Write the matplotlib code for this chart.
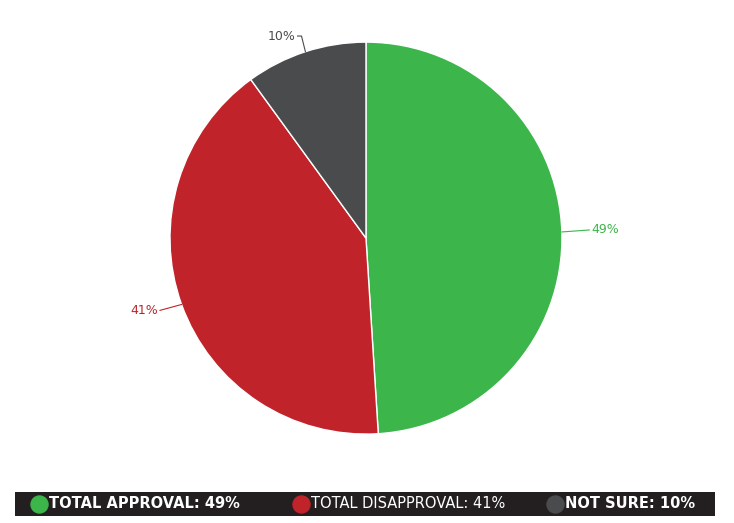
import matplotlib
matplotlib.use("Agg")
import matplotlib.pyplot as plt
import numpy as np

labels = ["TOTAL APPROVAL", "TOTAL DISAPPROVAL", "NOT SURE"]
values = [49, 41, 10]
colors = ["#3cb54a", "#c1232a", "#4a4b4d"]

fig = plt.figure(figsize=(7.34, 5.23), dpi=100)
ax = fig.add_axes([0.2316, 0.170, 0.534, 0.7495])
wedges, _ = ax.pie(values, colors=colors, startangle=90, counterclock=False,
                   radius=1.0, wedgeprops=dict(linewidth=1, edgecolor="white"))
ax.set_xlim(-1, 1); ax.set_ylim(-1, 1); ax.set_aspect("equal"); ax.axis("off")

offsets = [(0.15, 0.01), (-0.12, -0.03), (-0.02, 0.08)]
for w, v, c, (dx, dy) in zip(wedges, values, colors, offsets):
    ang = np.deg2rad((w.theta1 + w.theta2) / 2)
    x, y = np.cos(ang), np.sin(ang)
    if x > 0:
        tx, ty, ha = x + dx, y + dy, "left"
        ax.plot([x, tx - 0.01], [y, ty], color=c, lw=0.8, clip_on=False)
    elif y > 0.5:
        tx, ty, ha = x + dx - 0.03, y + dy, "right"
        ax.plot([x, x + dx, tx + 0.01], [y, ty, ty], color=c, lw=0.8, clip_on=False)
    else:
        tx, ty, ha = x + dx, y + dy, "right"
        ax.plot([x, tx + 0.01], [y, ty], color=c, lw=0.8, clip_on=False)
    ax.text(tx, ty, f"{v}%", color=c, ha=ha, va="center", fontsize=9,
            family="Liberation Sans Narrow", clip_on=False)

# legend bar
lax = fig.add_axes([15/734, 1-516/523, 700/734, 24/523])
lax.set_xlim(0, 700); lax.set_ylim(0, 24)
lax.set_facecolor("#231f20")
lax.set_xticks([]); lax.set_yticks([])
for s in lax.spines.values():
    s.set_visible(False)
xs = [24, 286, 540]
weights = ["bold", "normal", "bold"]
for x0, lab, v, c, wt in zip(xs, labels, values, colors, weights):
    lax.scatter([x0], [12], s=150, color=c, zorder=3)
    lax.text(x0 + 10, 12, f"{lab}: {v}%", color="white", fontsize=10.5,
             fontweight=wt, va="center", ha="left")

fig.savefig("out.png", dpi=100, facecolor="white")
